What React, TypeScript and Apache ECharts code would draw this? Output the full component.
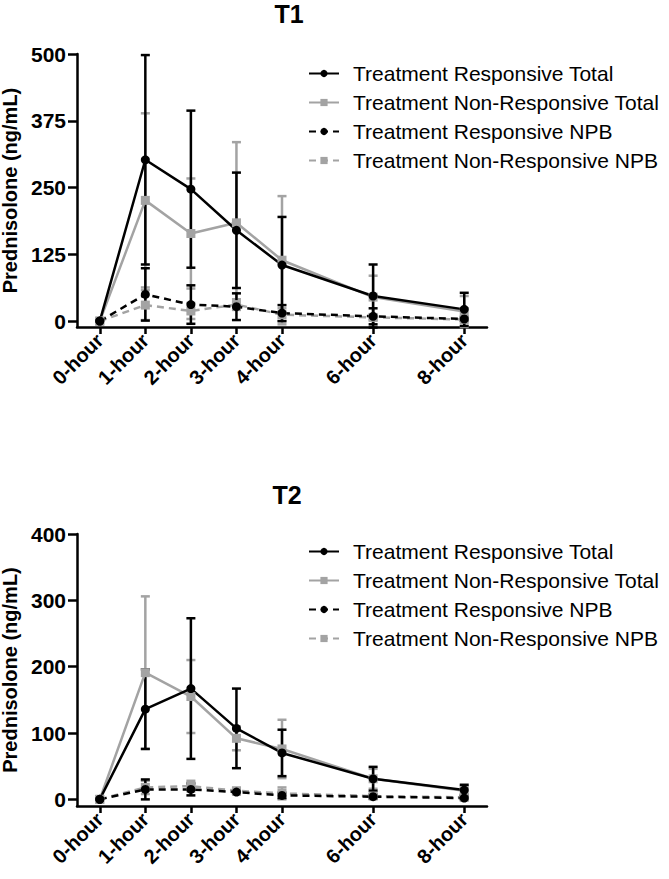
import React, { useEffect, useRef } from "react";
import * as echarts from "echarts";

const hours = [0, 1, 2, 3, 4, 6, 8];
const seriesNames = [
  "Treatment Responsive Total",
  "Treatment Non-Responsive Total",
  "Treatment Responsive NPB",
  "Treatment Non-Responsive NPB",
];
const yTicksT1 = [0, 125, 250, 375, 500];
const yTicksT2 = [0, 100, 200, 300, 400];

// T1 means and SDs
const respTotalT1 = [0, 302, 247, 170, 105, 47, 22];
const respTotalSdT1 = [0, 196, 147, 108, 90, 59, 31];
const nonRespTotalT1 = [0, 226, 164, 184, 114, 45, 18];
const nonRespTotalSdT1 = [0, 163, 103, 151, 120, 40, 29];
const respNpbT1 = [0, 50, 31, 27, 15, 9, 4];
const respNpbSdT1 = [0, 49, 36, 25, 15, 15, 3];
const nonRespNpbT1 = [0, 30, 19, 31, 12, 7, 3];
const nonRespNpbSdT1 = [0, 28, 15, 10, 12, 5, 3];

// T2 means and SDs
const respTotalT2 = [0, 136, 167, 107, 70, 31, 14];
const respTotalSdT2 = [0, 60, 106, 60, 35, 18, 8];
const nonRespTotalT2 = [0, 191, 155, 92, 76, 31, 13];
const nonRespTotalSdT2 = [0, 115, 55, 18, 44, 15, 6];
const respNpbT2 = [0, 15, 15, 11, 6, 4, 2];
const respNpbSdT2 = [0, 15, 9, 3, 4, 3, 2];
const nonRespNpbT2 = [0, 18, 20, 13, 9, 5, 3];
const nonRespNpbSdT2 = [0, 10, 8, 4, 9, 3, 2];

const BLACK = "#000000";
const GRAY = "#a3a3a3";
const FONT = "'Liberation Sans', Arial, sans-serif";

function pairs(vals: number[]) {
  return hours.map((h, i) => [h, vals[i]]);
}
function errData(vals: number[], sds: number[]) {
  return hours
    .map((h, i) => [h, vals[i] - sds[i], vals[i] + sds[i]])
    .filter((_, i) => sds[i] > 0);
}

function errSeries(idx: number, vals: number[], sds: number[], color: string) {
  return {
    type: "custom",
    xAxisIndex: idx,
    yAxisIndex: idx,
    clip: false,
    silent: true,
    encode: { x: 0, y: [1, 2] },
    data: errData(vals, sds),
    renderItem: (params: any, api: any) => {
      const x = api.value(0);
      const lo = api.coord([x, api.value(1)]);
      const hi = api.coord([x, api.value(2)]);
      const hw = 4.5;
      const style = { stroke: color, lineWidth: 2.5, fill: "none" };
      return {
        type: "group",
        children: [
          { type: "line", shape: { x1: lo[0], y1: lo[1], x2: hi[0], y2: hi[1] }, style },
          { type: "line", shape: { x1: lo[0] - hw, y1: lo[1], x2: lo[0] + hw, y2: lo[1] }, style },
          { type: "line", shape: { x1: hi[0] - hw, y1: hi[1], x2: hi[0] + hw, y2: hi[1] }, style },
        ],
      };
    },
  };
}

function lineSeries(idx: number, name: string, vals: number[], color: string, symbol: string, dashed: boolean) {
  return {
    type: "line",
    name,
    xAxisIndex: idx,
    yAxisIndex: idx,
    data: pairs(vals),
    symbol,
    symbolSize: 9,
    showSymbol: true,
    clip: false,
    itemStyle: { color },
    lineStyle: { color, width: 2.5, type: dashed ? [7, 5] : "solid" },
  };
}

function buildSeries(
  idx: number,
  rt: number[], rtSd: number[],
  nt: number[], ntSd: number[],
  rn: number[], rnSd: number[],
  nn: number[], nnSd: number[]
) {
  return [
    errSeries(idx, nn, nnSd, GRAY),
    lineSeries(idx, seriesNames[3], nn, GRAY, "rect", true),
    errSeries(idx, nt, ntSd, GRAY),
    lineSeries(idx, seriesNames[1], nt, GRAY, "rect", false),
    errSeries(idx, rn, rnSd, BLACK),
    lineSeries(idx, seriesNames[2], rn, BLACK, "circle", true),
    errSeries(idx, rt, rtSd, BLACK),
    lineSeries(idx, seriesNames[0], rt, BLACK, "circle", false),
  ];
}

function xAxis(gridIndex: number) {
  return {
    type: "value",
    gridIndex,
    min: -0.5,
    max: 8.5,
    splitLine: { show: false },
    axisLine: { show: true, onZero: false, lineStyle: { color: BLACK, width: 2.5 } },
    axisTick: { show: true, length: 7, customValues: hours, lineStyle: { color: BLACK, width: 2.5 } },
    axisLabel: {
      customValues: hours,
      rotate: 45,
      margin: 10,
      color: BLACK,
      fontSize: 20,
      fontWeight: "bold",
      fontFamily: FONT,
      formatter: (v: number) => `${v}-hour`,
    },
  };
}

function yAxis(gridIndex: number, min: number, max: number, ticks: number[]) {
  return {
    type: "value",
    gridIndex,
    min,
    max,
    name: "Prednisolone (ng/mL)",
    nameLocation: "middle",
    nameGap: 53,
    nameTextStyle: { color: BLACK, fontSize: 20, fontWeight: "bold", fontFamily: FONT },
    splitLine: { show: false },
    axisLine: { show: true, onZero: false, lineStyle: { color: BLACK, width: 2.5 } },
    axisTick: { show: true, length: 9, customValues: ticks, lineStyle: { color: BLACK, width: 2.5 } },
    axisLabel: {
      customValues: ticks,
      margin: 11,
      color: BLACK,
      fontSize: 21,
      fontWeight: "bold",
      fontFamily: FONT,
    },
  };
}

function legend(top: number) {
  return {
    orient: "vertical",
    left: 303,
    top,
    itemWidth: 30,
    itemHeight: 9,
    itemGap: 8,
    data: seriesNames,
    selectedMode: false,
    textStyle: { color: BLACK, fontSize: 21, fontFamily: FONT, lineHeight: 21, padding: [0, 0, 0, 9] },
  };
}

export default function App() {
  const ref = useRef<HTMLDivElement>(null);
  useEffect(() => {
    if (!ref.current) return;
    const chart = echarts.init(ref.current, undefined, { renderer: "svg" });
    chart.setOption({
      animation: false,
      backgroundColor: "#ffffff",
      title: [
        {
          text: "T1",
          left: 284,
          top: -4,
          textAlign: "center",
          textStyle: { color: BLACK, fontSize: 25, fontWeight: "bold", fontFamily: FONT },
        },
        {
          text: "T2",
          left: 282,
          top: 477,
          textAlign: "center",
          textStyle: { color: BLACK, fontSize: 25, fontWeight: "bold", fontFamily: FONT },
        },
      ],
      legend: [legend(58), legend(536)],
      grid: [
        { left: 77, top: 54, width: 410, height: 273, containLabel: false, outerBoundsMode: "none" },
        { left: 77, top: 534, width: 410, height: 272, containLabel: false, outerBoundsMode: "none" },
      ],
      xAxis: [xAxis(0), xAxis(1)],
      yAxis: [yAxis(0, -11, 500, yTicksT1), yAxis(1, -10, 400, yTicksT2)],
      series: [
        ...buildSeries(0, respTotalT1, respTotalSdT1, nonRespTotalT1, nonRespTotalSdT1, respNpbT1, respNpbSdT1, nonRespNpbT1, nonRespNpbSdT1),
        ...buildSeries(1, respTotalT2, respTotalSdT2, nonRespTotalT2, nonRespTotalSdT2, respNpbT2, respNpbSdT2, nonRespNpbT2, nonRespNpbSdT2),
      ],
    });
    return () => chart.dispose();
  }, []);
  return (
    <div
      ref={ref}
      style={{ position: "absolute", left: 0, top: 0, width: 669, height: 879, background: "#fff" }}
    />
  );
}
